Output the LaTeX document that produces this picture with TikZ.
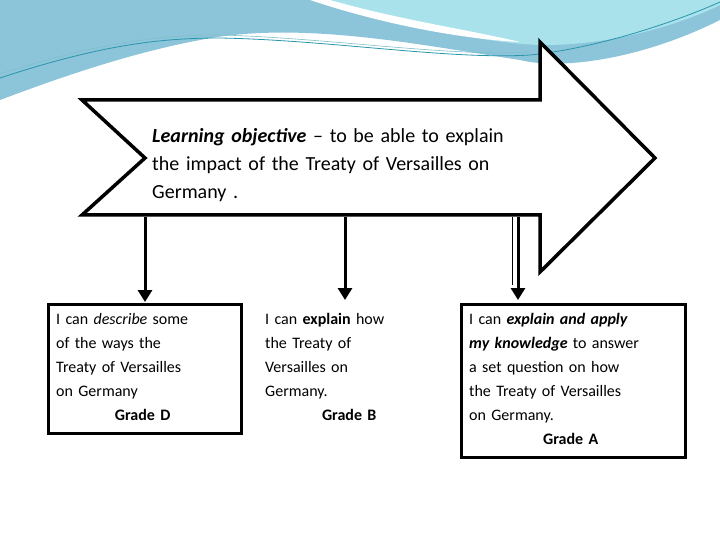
\documentclass[tikz,border=0pt]{standalone}
\usepackage{fontspec}
\setmainfont{Carlito}
\usetikzlibrary{arrows.meta}
\definecolor{bgblue}{RGB}{140,196,218}
\definecolor{bgcyan}{RGB}{170,226,236}
\definecolor{bgline}{RGB}{40,150,170}
\newcommand{\jl}[1]{\makebox[\linewidth][s]{#1}\\}
\begin{document}
\begin{tikzpicture}[x=1pt,y=-1pt,
  thick black/.style={line width=3.5pt,line join=miter},
  down/.style={line width=3pt,-{Triangle[length=12pt,width=14pt]}},
  txt/.style={anchor=north west,align=left,font=\fontsize{16}{24}\selectfont,inner sep=0pt}]
\useasboundingbox (0,0) rectangle (720,540);
\fill[white] (0,0) rectangle (720,540);
% background waves
\fill[bgblue] (0,0) -- (720,0) -- (720,20) .. controls (640,60) and (560,70) .. (520,60)
  .. controls (420,45) and (300,20) .. (200,40) .. controls (120,55) and (40,85) .. (0,100) -- cycle;
\fill[bgcyan] (330,0) .. controls (420,30) and (500,45) .. (545,45) .. controls (620,45) and (690,20) .. (720,5) -- (720,0) -- cycle;
\fill[white] (310,0) .. controls (400,30) and (480,40) .. (520,42) .. controls (470,30) and (400,20) .. (330,0) -- cycle;
\draw[bgline,line width=0.8pt] (0,78) .. controls (100,45) and (160,38) .. (220,38) .. controls (330,40) and (450,60) .. (530,55) .. controls (600,48) and (680,20) .. (720,2);
\draw[bgline!60,line width=0.6pt] (0,74) .. controls (100,42) and (160,35) .. (220,35) .. controls (330,38) and (450,57) .. (530,52);
% big arrow
\coordinate (a1) at (82,100); \coordinate (a2) at (540,100); \coordinate (a3) at (540,42);
\coordinate (a4) at (655,158); \coordinate (a5) at (540,272); \coordinate (a6) at (540,215);
\coordinate (a7) at (82,215); \coordinate (a8) at (145,158);
\draw[thick black,fill=white] (a1)--(a2)--(a3)--(a4)--(a5)--(a6)--(a7)--(a8)--cycle;
\node[txt,text width=405pt,font=\fontsize{20}{28}\selectfont] (obj) at (152,128) {\jl{\textit{\textbf{Learning objective}} -- to be able to explain}\jl{the impact of the Treaty of Versailles on}Germany .};
% boxes
\node[txt,text width=173pt] (b1) at (56,313) {\jl{I can \textit{describe} some}\jl{of the ways the}\jl{Treaty of Versailles}on Germany\\\makebox[\linewidth][c]{\textbf{Grade D}}};
\draw[thick black,line width=3pt] (48,304) rectangle (241,433);
\node[txt,text width=168pt] (b2) at (265,313) {\jl{I can \textbf{explain} how}\jl{the Treaty of}\jl{Versailles on}Germany.\\\makebox[\linewidth][c]{\textbf{Grade B}}};
\node[txt,text width=203pt] (b3) at (469,313) {\jl{I can \textit{\textbf{explain and apply}}}\jl{\textit{\textbf{my knowledge}} to answer}\jl{a set question on how}\jl{the Treaty of Versailles}on Germany.\\\makebox[\linewidth][c]{\textbf{Grade A}}};
\draw[thick black,line width=3pt] (461,304) rectangle (685,457);
\coordinate (d1) at (145,217); \coordinate (e1) at (145,302);
\coordinate (d2) at (345,217); \coordinate (e2) at (345,300);
\coordinate (d3) at (518,217); \coordinate (e3) at (518,300);
\draw[down] (d1)--(e1);
\draw[down] (d2)--(e2);
\draw[down] (d3)--(e3);
\draw[line width=1pt] (512,217)--(512,285);
\end{tikzpicture}
\end{document}
